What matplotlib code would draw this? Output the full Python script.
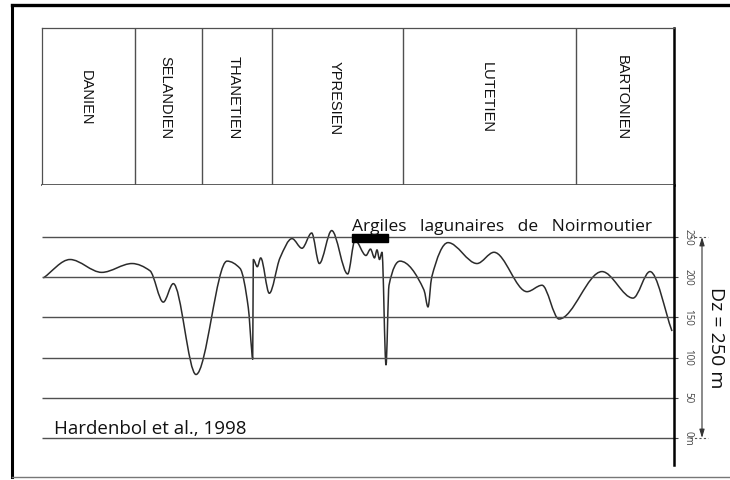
import numpy as np
import matplotlib
matplotlib.use("Agg")
import matplotlib.pyplot as plt
from matplotlib.path import Path
from matplotlib.patches import PathPatch, Rectangle
from matplotlib.lines import Line2D

# ---- data -------------------------------------------------------------
stages = ["DANIEN", "SELANDIEN", "THANETIEN", "YPRESIEN", "LUTETIEN", "BARTONIEN"]
stage_bounds = [0, 93, 160, 230, 361, 534, 632]

# relative position along the Paleocene-Eocene section and sea level (m)
position = [1.3, 28, 59.7, 90, 108, 121.3, 131.3, 154,
            185, 198, 206.3, 209.7, 210.7, 211.3, 215.3, 218.7, 227.3,
            238, 250, 260, 269.7, 277.3, 289.7, 305.7,
            313, 324, 328.5, 332.5, 335, 337.5, 340, 344,
            347, 358, 382, 386, 389.7,
            406, 435, 452, 485, 500, 517,
            560, 591, 608, 630]
sea_level = [199, 222, 206, 217, 208, 169, 192, 79,
             220, 211, 162, 109, 98, 222, 213, 224, 180,
             224, 248, 236, 255, 217, 258, 204,
             246, 227, 235, 224, 234, 222, 231, 91,
             190, 220, 184, 163, 200,
             243, 217, 231, 182, 190, 148,
             207, 174, 207, 133]

levels = [0, 50, 100, 150, 200, 250]
level_labels = ["0m", "50", "100", "150", "200", "250"]

noirmoutier_span = (310, 346)
noirmoutier_label = "Argiles   lagunaires   de   Noirmoutier"
source_label = "Hardenbol et al., 1998"
range_label = "Dz = 250 m"

# ---- helpers ----------------------------------------------------------
W, H = 730, 480


def fx(px):
    return px / W


def fy(py):
    return 1 - py / H


def smooth_path(x, y):
    """Monotone cubic Hermite curve through the points, as Bezier segments."""
    x = np.asarray(x, float)
    y = np.asarray(y, float)
    h = np.diff(x)
    d = np.diff(y) / h
    m = np.zeros_like(y)
    m[0], m[-1] = d[0], d[-1]
    for k in range(1, len(x) - 1):
        if d[k - 1] * d[k] > 0:
            w1 = 2 * h[k] + h[k - 1]
            w2 = h[k] + 2 * h[k - 1]
            m[k] = (w1 + w2) / (w1 / d[k - 1] + w2 / d[k])
    verts = [(x[0], y[0])]
    codes = [Path.MOVETO]
    for k in range(len(x) - 1):
        verts += [(x[k] + h[k] / 3, y[k] + m[k] * h[k] / 3),
                  (x[k + 1] - h[k] / 3, y[k + 1] - m[k + 1] * h[k] / 3),
                  (x[k + 1], y[k + 1])]
        codes += [Path.CURVE4] * 3
    return Path(verts, codes)


sans = ["Open Sans", "DejaVu Sans"]
narrow = ["Liberation Sans Narrow", "Liberation Sans", "DejaVu Sans"]
grey = "#505050"
ink = "#111111"

fig = plt.figure(figsize=(7.3, 4.8), dpi=100)
fig.patch.set_facecolor("white")

# ---- stage table --------------------------------------------------------
ax_st = fig.add_axes([fx(42), fy(185), (674 - 42) / W, (185 - 28) / H])
ax_st.set_xlim(stage_bounds[0], stage_bounds[-1])
ax_st.set_ylim(0, 1)
ax_st.set_xticks([])
ax_st.set_yticks([])
for side in ("top", "left"):
    ax_st.spines[side].set_color(grey)
    ax_st.spines[side].set_linewidth(0.9)
ax_st.spines["bottom"].set_color(grey)
ax_st.spines["bottom"].set_linewidth(1.3)
ax_st.spines["right"].set_color("black")
ax_st.spines["right"].set_linewidth(1.8)
ax_st.vlines(stage_bounds[1:-1], 0, 1, colors=grey, lw=1.0)
for name, a, b in zip(stages, stage_bounds[:-1], stage_bounds[1:]):
    ax_st.text((a + b) / 2 - 3, 0.555, name, rotation=-90, ha="center",
               va="center", fontsize=10.5, family=narrow, color=ink)

# ---- sea-level curve ------------------------------------------------------
px_per_m = (438 - 237) / 250
ax = fig.add_axes([fx(42), fy(465), (674 - 42) / W, (465 - 185) / H])
ax.set_xlim(stage_bounds[0], stage_bounds[-1])
ax.set_ylim((438 - 465) / px_per_m, (438 - 185) / px_per_m)
for side in ("top", "left", "bottom"):
    ax.spines[side].set_visible(False)
ax.spines["right"].set_color("black")
ax.spines["right"].set_linewidth(1.8)
ax.set_xticks([])
ax.yaxis.tick_right()
ax.set_yticks(levels)
ax.set_yticklabels(level_labels, rotation=-90, va="center", fontsize=7,
                   family=sans, color="#444")
ax.tick_params(axis="y", direction="out", length=3, width=0.8, pad=3,
               colors="#444")

ax.hlines(levels, stage_bounds[0], stage_bounds[-1], colors=grey, lw=1.0)
ax.add_patch(PathPatch(smooth_path(position, sea_level), fill=False,
                       ec="#2b2b2b", lw=1.1, joinstyle="round"))

# Noirmoutier lagoonal clays
ax.add_patch(Rectangle((noirmoutier_span[0], 244),
                       noirmoutier_span[1] - noirmoutier_span[0], 10,
                       color="black", zorder=3))
ax.text(noirmoutier_span[0], 258, noirmoutier_label, ha="left", va="baseline",
        fontsize=12.5, family=sans, color=ink)
ax.text(12, 4.6, source_label, ha="left", va="baseline", fontsize=13.5,
        family=sans, color=ink)

# amplitude bracket
yt = ax.get_yaxis_transform()
ax.hlines([levels[0], levels[-1]], 1.0253, 1.0538, transform=yt,
          linestyles=(0, (2, 2)), lw=0.8, colors="#555", clip_on=False)
ax.annotate("", xy=(1.0443, levels[0]), xytext=(1.0443, levels[-1]),
            xycoords=yt, textcoords=yt, annotation_clip=False,
            arrowprops=dict(arrowstyle="<|-|>,head_length=0.5,head_width=0.15",
                            lw=0.8, color="#333", shrinkA=0, shrinkB=0))
ax.text(1.0665, (levels[0] + levels[-1]) / 2, range_label, transform=yt,
        rotation=-90, ha="center", va="center", fontsize=14, family=sans,
        color=ink, clip_on=False)

# ---- page frame ---------------------------------------------------------
fig.add_artist(Line2D([fx(12), 1.0], [fy(5), fy(5)], lw=2.4, color="black",
                      transform=fig.transFigure))
fig.add_artist(Line2D([fx(12), fx(12)], [fy(5), fy(477)], lw=2.2,
                      color="black", transform=fig.transFigure))
fig.add_artist(Line2D([fx(12), 1.0], [fy(477), fy(477)], lw=1.0,
                      color="#777", transform=fig.transFigure))

fig.savefig("out.png", dpi=100, facecolor="white")
